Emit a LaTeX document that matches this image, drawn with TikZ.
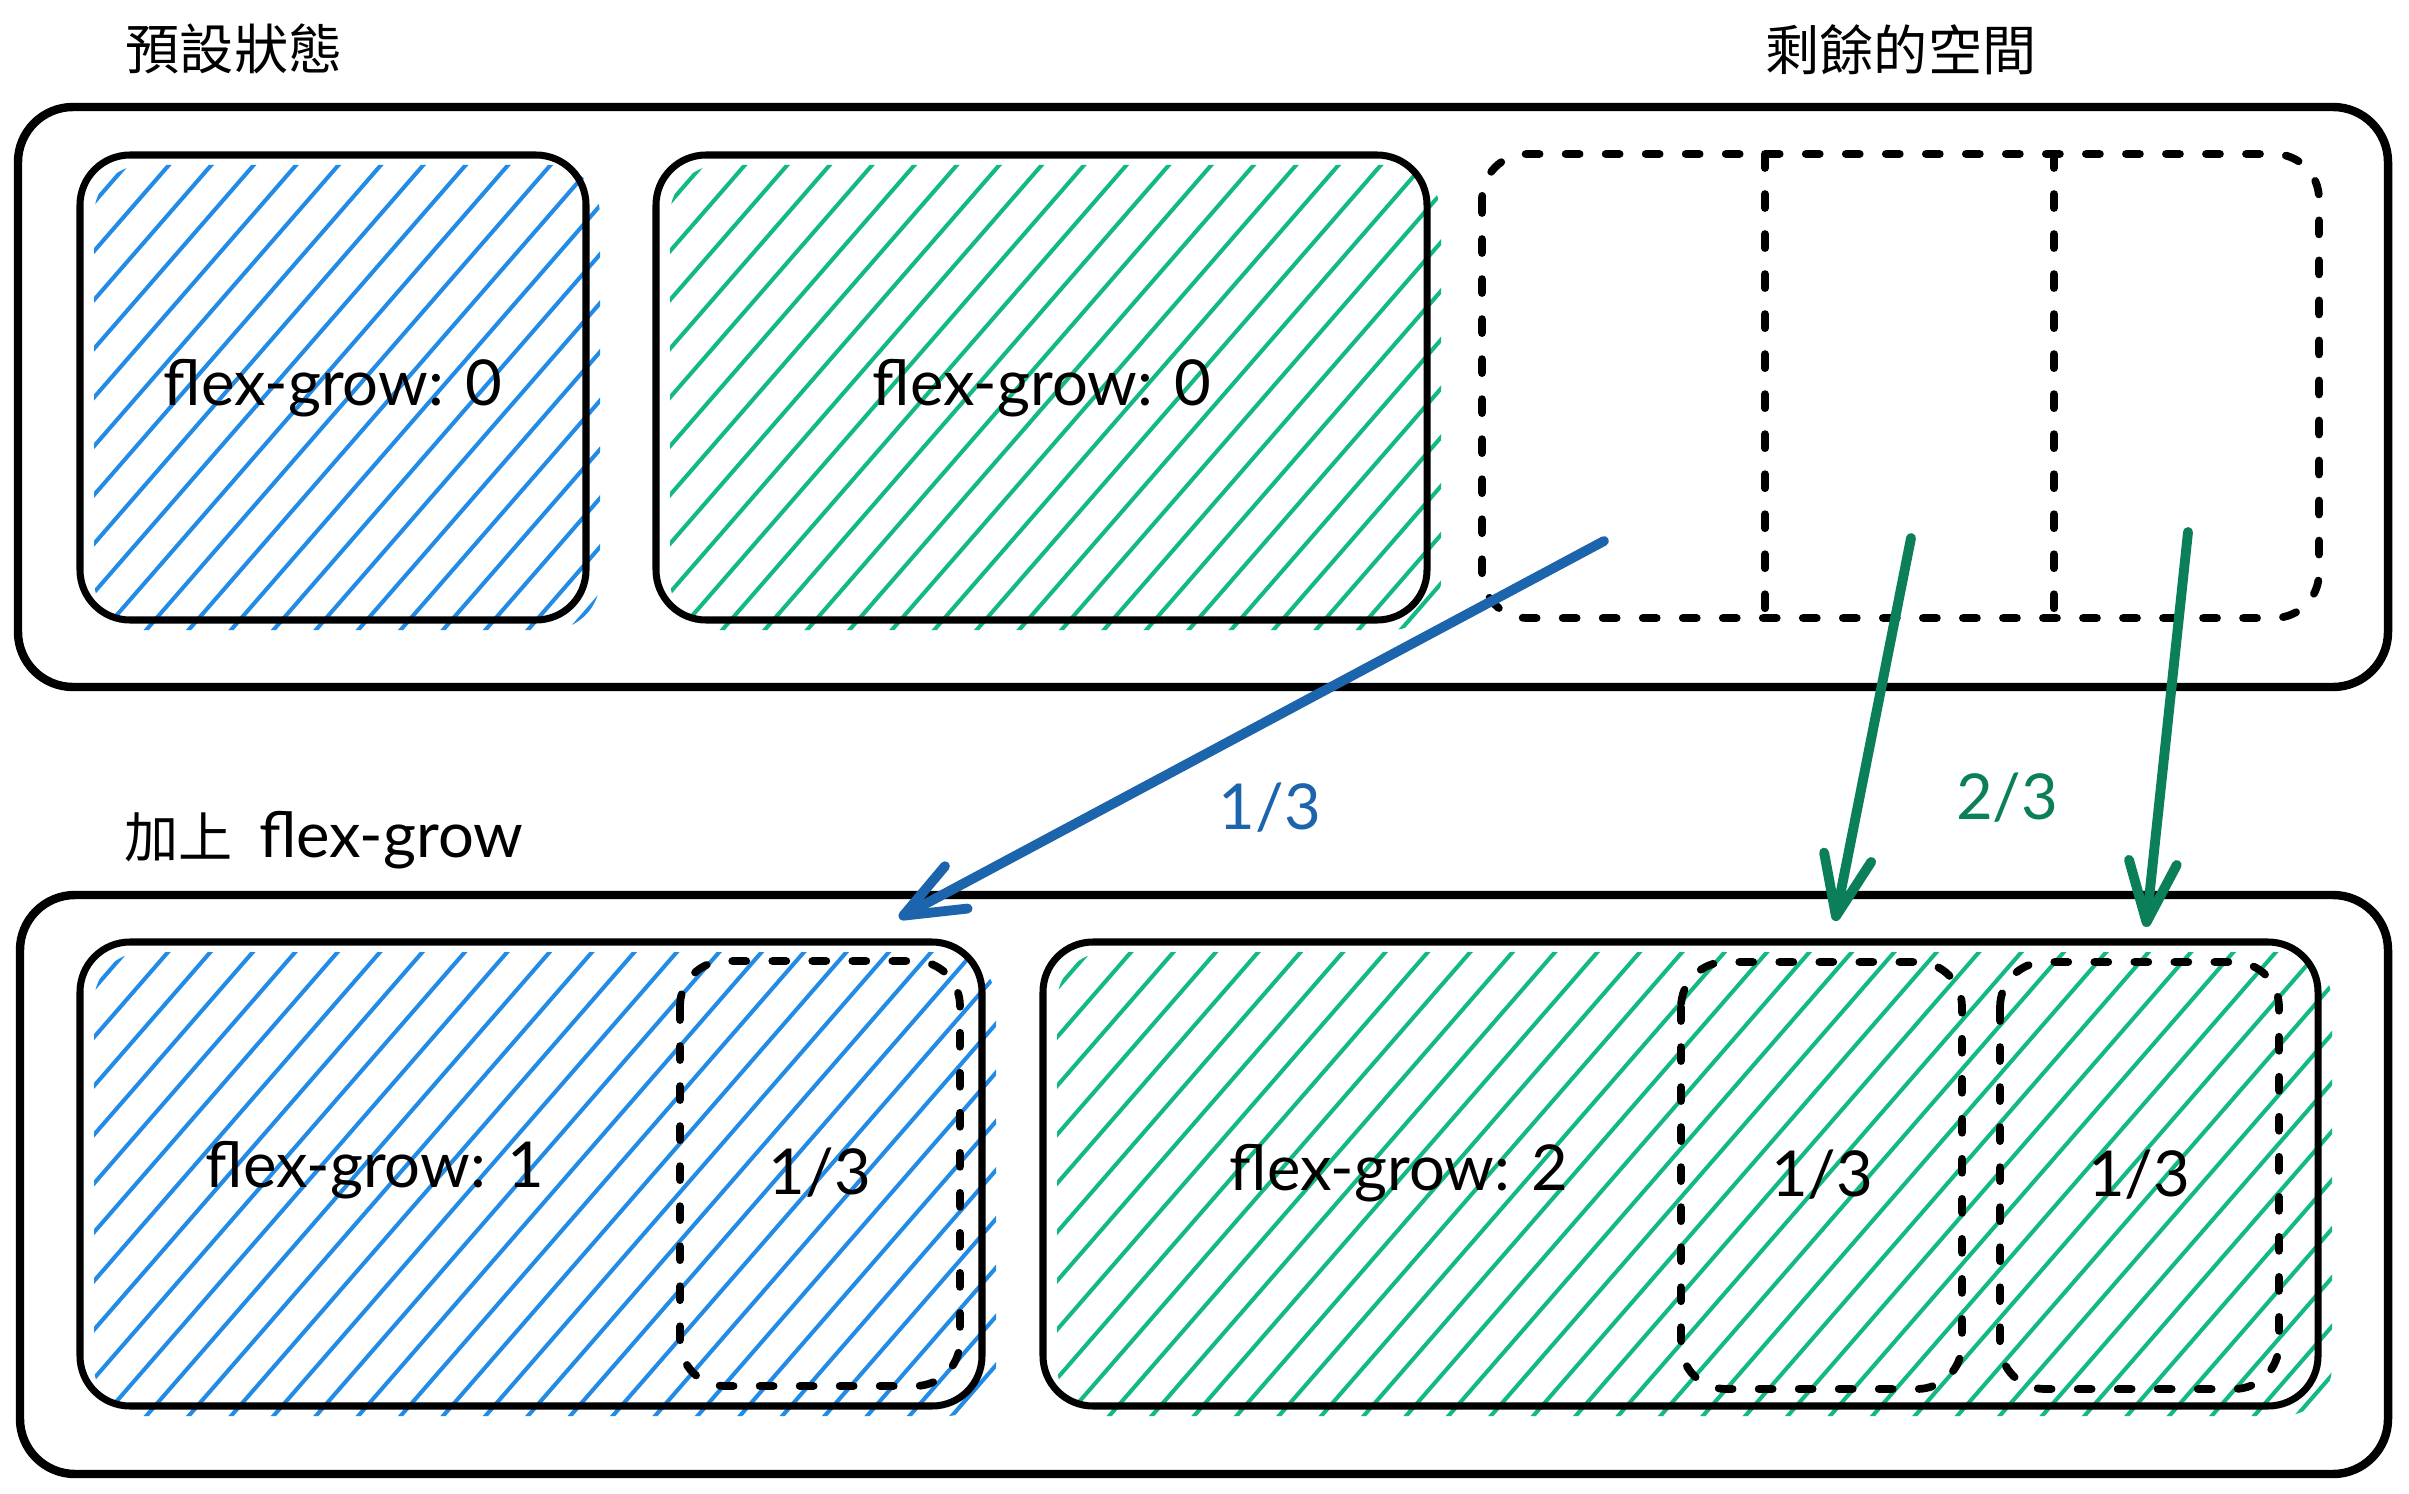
\documentclass[tikz,border=0pt]{standalone}
\usepackage{fontspec}
\setmainfont{Lato}
\newfontfamily\cjk{Noto Sans CJK TC}
\usetikzlibrary{arrows.meta}

\definecolor{hatchblue}{HTML}{228BE6}
\definecolor{hatchgreen}{HTML}{12B886}
\definecolor{arrowblue}{HTML}{1C64AB}
\definecolor{arrowgreen}{HTML}{0A7F5A}

\tikzset{
  outerbox/.style={draw=black, line width=2.4pt, rounded corners=0.55cm},
  innerbox/.style={draw=black, line width=2pt, rounded corners=0.5cm},
  dashbox/.style={draw=black, line width=2.2pt, rounded corners=0.45cm, dash pattern=on 0.14cm off 0.26cm, line cap=round},
  dashline/.style={draw=black, line width=2.2pt, dash pattern=on 0.14cm off 0.26cm, line cap=round},
  hatchline/.style={line width=1.15pt},
  lbl/.style={font=\fontsize{18}{20}\selectfont, inner sep=0pt},
  ttl/.style={font=\cjk\fontsize{15.4}{18}\selectfont, inner sep=0pt},
  flow/.style={line width=2.8pt, line cap=round, -{Straight Barb[length=0.6cm, width=0.48cm, round]}}
}

% hatch fill of a box: x1 y1 x2 y2 colour (pixel coordinates, y downwards)
\newcommand\hatchfill[5]{%
  \begin{scope}
    \clip[rounded corners=0.5cm] ({#1+14},{#2+10}) rectangle ({#3+14},{#4+10});
    \foreach \k in {0,...,52}
      \draw[hatchline,#5] ({#1-460+\k*42.4},{#4+30}) -- ++(520,-598);
  \end{scope}}

\begin{document}
\begin{tikzpicture}[x=0.01cm, y=-0.01cm]
\useasboundingbox (0,0) rectangle (2409,1494);
\fill[white] (0,0) rectangle (2409,1494);

% ---------- titles ----------
\node[ttl, anchor=base] (t1) at (234,70) {預設狀態};
\node[ttl, anchor=base] (t2) at (1901,71) {剩餘的空間};
\node[anchor=base west, inner sep=0pt] (t3) at (124,857)
  {{\cjk\fontsize{15.4}{18}\selectfont 加上}\hspace{0.26cm}{\fontsize{18}{20}\selectfont flex-grow}};

% ---------- top row ----------
\draw[outerbox] (18,107) rectangle (2388,687);

\hatchfill{80}{155}{586}{620}{hatchblue}
\draw[innerbox] (80,155) rectangle (586,620);
\node[lbl] (l1) at (333,388) {flex-grow: 0};

\hatchfill{656}{155}{1427}{620}{hatchgreen}
\draw[innerbox] (656,155) rectangle (1427,620);
\node[lbl] (l2) at (1042,388) {flex-grow: 0};

\draw[dashbox] (1482,154) rectangle (2319,618);
\draw[dashline] (1765,154) -- (1765,618);
\draw[dashline] (2054,154) -- (2054,618);

% ---------- bottom row ----------
\draw[outerbox] (20,895) rectangle (2388,1474);

\hatchfill{80}{942}{982}{1406}{hatchblue}
\draw[innerbox] (80,942) rectangle (982,1406);
\node[lbl] (l3) at (375,1170) {flex-grow: 1};
\draw[dashbox] (680,961) rectangle (960,1386);
\node[lbl] (f1) at (820,1173) {1/3};

\hatchfill{1043}{942}{2318}{1406}{hatchgreen}
\draw[innerbox] (1043,942) rectangle (2318,1406);
\node[lbl] (l4) at (1399,1173) {flex-grow: 2};
\draw[dashbox] (1681,962) rectangle (1962,1389);
\node[lbl] (f2) at (1822,1175) {1/3};
\draw[dashbox] (2000,962) rectangle (2279,1389);
\node[lbl] (f3) at (2139,1175) {1/3};

% ---------- arrows ----------
\coordinate (bs) at (1604,541);
\coordinate (be) at (899,918);
\coordinate (g1s) at (1911,538);
\coordinate (g1e) at (1835,921);
\coordinate (g2s) at (2188,532);
\coordinate (g2e) at (2146,927);
\draw[flow, arrowblue] (bs) -- (be);
\draw[flow, arrowgreen] (g1s) -- (g1e);
\draw[flow, arrowgreen] (g2s) -- (g2e);

\node[lbl, text=arrowblue] (fa) at (1270,808) {1/3};
\node[lbl, text=arrowgreen] (fb) at (2007,798) {2/3};
\end{tikzpicture}
\end{document}
